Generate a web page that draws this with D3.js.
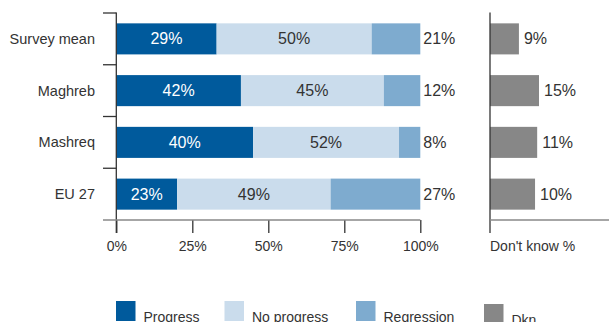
<!DOCTYPE html>
<html>
<head>
<meta charset="utf-8">
<script src="https://cdn.jsdelivr.net/npm/d3@7"></script>
<style>
  html, body { margin: 0; padding: 0; background: #fff; }
  svg { display: block; font-family: "Liberation Sans", Arial, sans-serif; }
</style>
</head>
<body>
<svg id="chart" width="609" height="322"></svg>
<script>
// ---- data ----
const categories = ["Survey mean", "Maghreb", "Mashreq", "EU 27"];
const seriesNames = ["Progress", "No progress", "Regression"];
// bar lengths as drawn in the picture (%)
const progress   = [33, 41, 45, 20];
const noProgress = [51, 47, 48, 50.5];
const regression = [16, 12, 7, 29.5];
// printed labels
const progressLabels   = ["29%", "42%", "40%", "23%"];
const noProgressLabels = ["50%", "45%", "52%", "49%"];
const regressionLabels = ["21%", "12%", "8%", "27%"];
// don't know panel
const dkn       = [9.5, 16.1, 15.5, 14.8];
const dknLabels = ["9%", "15%", "11%", "10%"];
const xTicks = [0, 25, 50, 75, 100];
const xTickLabels = ["0%", "25%", "50%", "75%", "100%"];
const dknAxisTitle = "Don't know %";
const legendNames = ["Progress", "No progress", "Regression", "Dkn"];

const colors = ["#005a9c", "#cadcec", "#7eabcf"];
const dknColor = "#878787";
const textColor = "#333";

const svg = d3.select("#chart");

const x = d3.scaleLinear().domain([0, 100]).range([116.3, 420.3]);
const xr = d3.scaleLinear().domain([0, 39.1]).range([490, 609]);
const y = d3.scaleBand().domain(categories).range([13, 220]).paddingInner(0.4).paddingOuter(0.2);

const rows = categories.map((c, i) => {
  const vals = [progress[i], noProgress[i], regression[i]];
  const labs = [progressLabels[i], noProgressLabels[i], regressionLabels[i]];
  let acc = 0;
  return vals.map((v, k) => { const s = { cat: c, k, x0: acc, x1: acc + v, label: labs[k] }; acc += v; return s; });
});

// bars
const g = svg.append("g");
rows.flat().forEach(d => {
  g.append("rect")
    .attr("x", x(d.x0)).attr("y", y(d.cat))
    .attr("width", x(d.x1) - x(d.x0)).attr("height", y.bandwidth())
    .attr("fill", colors[d.k]);
  if (d.k < 2) {
    g.append("text")
      .attr("x", (x(d.x0) + x(d.x1)) / 2).attr("y", y(d.cat) + y.bandwidth() / 2)
      .attr("dy", "0.35em").attr("text-anchor", "middle")
      .attr("font-size", 16).attr("fill", d.k === 0 ? "#fff" : textColor)
      .text(d.label);
  } else {
    g.append("text")
      .attr("x", x(d.x1) + 3).attr("y", y(d.cat) + y.bandwidth() / 2)
      .attr("dy", "0.35em").attr("font-size", 16).attr("fill", textColor)
      .text(d.label);
  }
});

// dkn bars
categories.forEach((c, i) => {
  svg.append("rect")
    .attr("x", xr(0)).attr("y", y(c))
    .attr("width", xr(dkn[i]) - xr(0)).attr("height", y.bandwidth())
    .attr("fill", dknColor);
  svg.append("text")
    .attr("x", xr(dkn[i]) + 5).attr("y", y(c) + y.bandwidth() / 2)
    .attr("dy", "0.35em").attr("font-size", 16).attr("fill", textColor)
    .text(dknLabels[i]);
});

// category labels
categories.forEach(c => {
  svg.append("text")
    .attr("x", 95).attr("y", y(c) + y.bandwidth() / 2)
    .attr("dy", "0.35em").attr("text-anchor", "end")
    .attr("font-size", 14.5).attr("fill", textColor)
    .text(c);
});

// left axis: vertical line and band-boundary ticks
const bounds = d3.range(categories.length + 1).map(i => 13 + i * y.step());
svg.append("line").attr("x1", x(0)).attr("x2", x(0)).attr("y1", 12.5).attr("y2", 233)
  .attr("stroke", "#333").attr("stroke-width", 1.3);
bounds.slice(0, -1).forEach(b => {
  svg.append("line").attr("x1", 103).attr("x2", x(0)).attr("y1", b).attr("y2", b)
    .attr("stroke", "#333").attr("stroke-width", 1.3);
});
// bottom axis
const xAxis = d3.axisBottom(x).tickValues(xTicks).tickFormat((d, i) => xTickLabels[i]).tickSize(13).tickPadding(8);
const ax = svg.append("g").attr("transform", "translate(0,220)").call(xAxis);
ax.select(".domain").remove();
ax.selectAll(".tick line").attr("stroke", "#333").attr("stroke-width", 1.3);
ax.selectAll(".tick text").attr("font-size", 14).attr("fill", textColor).attr("font-family", "Liberation Sans, Arial, sans-serif");
svg.append("line").attr("x1", 103).attr("x2", x(100)).attr("y1", 220).attr("y2", 220)
  .attr("stroke", "#888").attr("stroke-width", 1.3);

// right panel axes
svg.append("line").attr("x1", xr(0)).attr("x2", xr(0)).attr("y1", 12.5).attr("y2", 233)
  .attr("stroke", "#333").attr("stroke-width", 1.3);
svg.append("line").attr("x1", xr(0)).attr("x2", xr(39.1)).attr("y1", 220).attr("y2", 220)
  .attr("stroke", "#888").attr("stroke-width", 1.3);
svg.append("text").attr("x", xr(0)).attr("y", 251).attr("font-size", 14).attr("fill", textColor)
  .text(dknAxisTitle);

// legend
const legX = [116, 224.5, 356, 484];
const legY = [301, 301, 301, 304];
const legColors = colors.concat([dknColor]);
legendNames.forEach((n, i) => {
  svg.append("rect").attr("x", legX[i]).attr("y", legY[i]).attr("width", 19.5).attr("height", 20)
    .attr("fill", legColors[i]);
  svg.append("text").attr("x", legX[i] + 27.5).attr("y", legY[i] + 20.5)
    .attr("font-size", 14).attr("fill", textColor).text(n);
});
</script>
</body>
</html>
